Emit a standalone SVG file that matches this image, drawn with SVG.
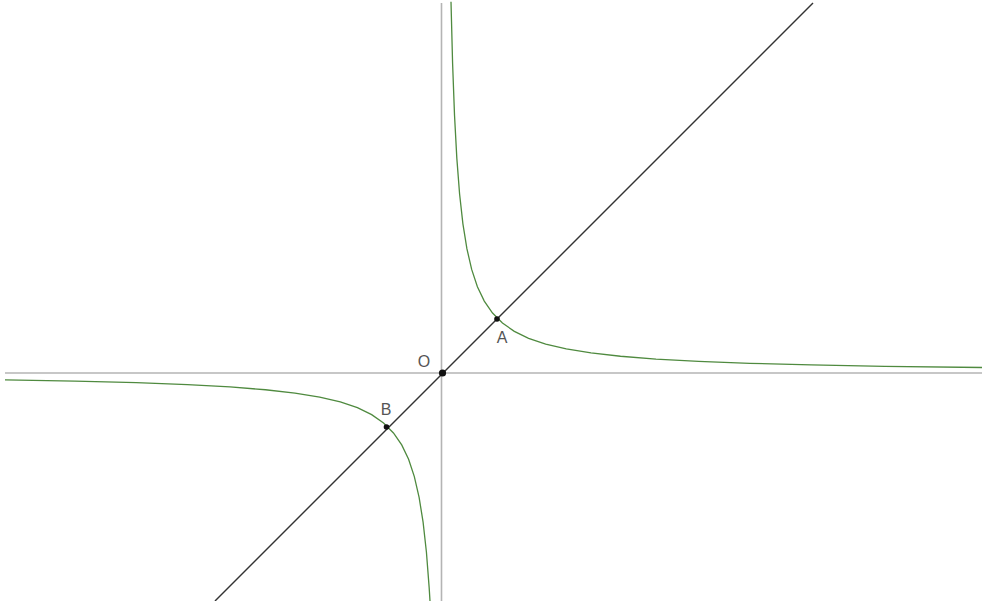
<svg xmlns="http://www.w3.org/2000/svg" width="982" height="601" viewBox="0 0 982 601">
<style>
.axis{stroke:#b4b4b4;stroke-width:1.6;fill:none}
.curve{stroke:#4f8a3f;stroke-width:1.3;fill:none}
.line{stroke:#333;stroke-width:1.4;fill:none}
.pt{fill:#111}
.lbl{font-family:"Liberation Sans",Arial,sans-serif;font-size:16px;fill:#555;text-anchor:middle}
</style>
<rect width="982" height="601" fill="#fff"/>
<g id="connectors">
<line id="x-axis" class="axis" x1="5" y1="373" x2="982" y2="373"/>
<line id="y-axis" class="axis" x1="441.5" y1="3" x2="441.5" y2="601"/>
<path id="branch-upper" class="curve" d="M451,1.75 L452.6,63.6 L454.52,115.2 L456.82,158.1 L459.59,194 L462.91,223.8 L466.89,248.7 L471.67,269.4 L477.4,286.66 L484.28,301.05 L492.54,313.05 L502.45,323.04 L514.34,331.37 L528.6,338.3 L545.7,344.08 L566.3,348.91 L591,352.93 L620.5,356.27 L656,359.06 L698.6,361.38 L749.8,363.32 L811.1,364.93 L884.7,366.28 L982,367.49"/>
<path id="branch-lower" class="curve" d="M430,601 L429.18,587.9 L426.41,552 L423.09,522.2 L419.11,497.3 L414.33,476.6 L408.6,459.34 L401.72,444.95 L393.46,432.95 L383.55,422.96 L371.66,414.63 L357.4,407.7 L340.3,401.92 L319.7,397.09 L295,393.07 L265.5,389.73 L230,386.94 L187.4,384.62 L136.2,382.68 L74.9,381.07 L5,379.8"/>
<line id="line-yx" class="line" x1="215" y1="601" x2="813" y2="3"/>
</g>
<g id="O"><circle class="pt" cx="442.5" cy="373" r="3.6"/><text class="lbl" x="424" y="367">O</text></g>
<g id="A"><circle class="pt" cx="497" cy="319" r="2.8"/><text class="lbl" x="502" y="343">A</text></g>
<g id="B"><circle class="pt" cx="386.5" cy="427" r="2.8"/><text class="lbl" x="386" y="415">B</text></g>
</svg>
